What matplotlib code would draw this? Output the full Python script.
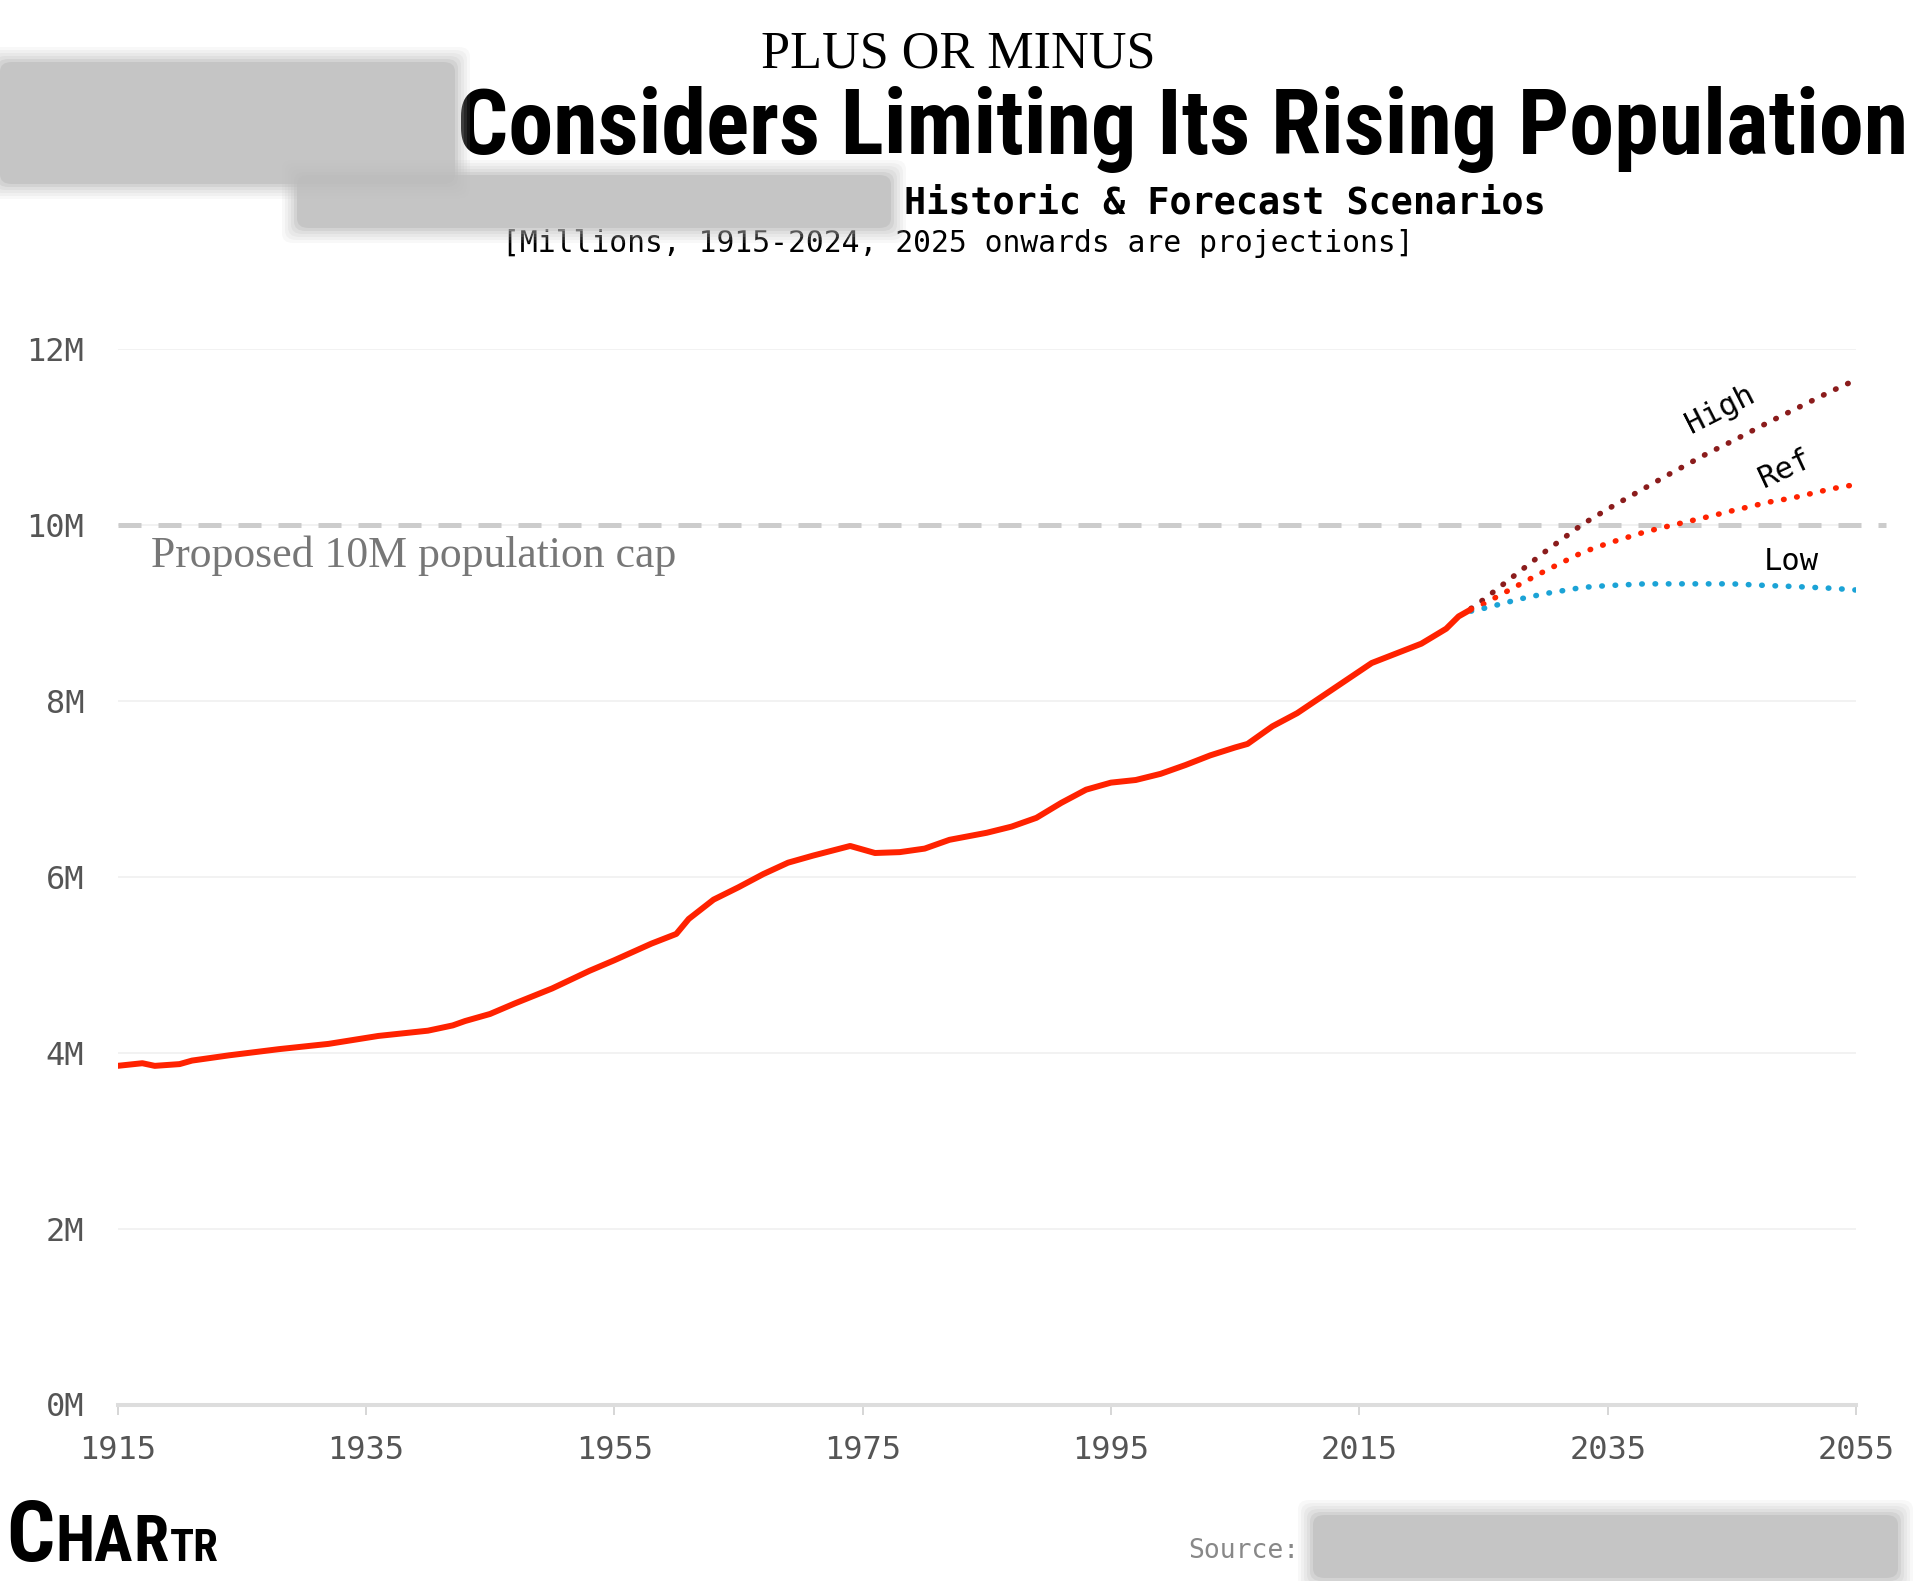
import matplotlib
matplotlib.use("Agg")
import matplotlib.pyplot as plt
from matplotlib import font_manager
from matplotlib.font_manager import FontProperties
from matplotlib.patches import FancyBboxPatch

# historic population, millions
hist_years = [1915, 1917, 1918, 1920, 1921, 1924, 1928, 1932, 1936, 1940,
              1942, 1943, 1945, 1947, 1950, 1953, 1955, 1958, 1960, 1961,
              1963, 1965, 1967, 1969, 1971, 1974, 1976, 1978, 1980, 1982,
              1985, 1987, 1989, 1991, 1993, 1995, 1997, 1999, 2001, 2003,
              2005, 2006, 2008, 2010, 2012, 2014, 2016, 2018, 2020, 2022,
              2023, 2024]
hist_pop = [3.85, 3.88, 3.85, 3.87, 3.91, 3.97, 4.04, 4.10, 4.19, 4.25,
            4.31, 4.36, 4.44, 4.56, 4.73, 4.93, 5.05, 5.24, 5.35, 5.52,
            5.74, 5.88, 6.03, 6.16, 6.24, 6.35, 6.27, 6.28, 6.32, 6.42,
            6.50, 6.57, 6.67, 6.84, 6.99, 7.07, 7.10, 7.17, 7.27, 7.38,
            7.47, 7.51, 7.71, 7.86, 8.05, 8.24, 8.43, 8.54, 8.65, 8.82,
            8.96, 9.04]

# forecast scenarios
fc_years = [2024, 2025, 2028, 2030, 2033, 2035, 2038, 2040, 2043, 2045, 2048, 2050, 2053, 2055]
fc_high = [9.05, 9.15, 9.48, 9.70, 10.01, 10.18, 10.42, 10.58, 10.81, 10.95, 11.17, 11.31, 11.52, 11.65]
fc_ref = [9.04, 9.10, 9.33, 9.48, 9.69, 9.79, 9.92, 9.99, 10.09, 10.16, 10.26, 10.31, 10.41, 10.46]
fc_low = [9.02, 9.05, 9.16, 9.22, 9.29, 9.31, 9.33, 9.33, 9.33, 9.33, 9.31, 9.30, 9.28, 9.26]

y_ticks = [0, 2, 4, 6, 8, 10, 12]
y_labels = ["0M", "2M", "4M", "6M", "8M", "10M", "12M"]
x_ticks = [1915, 1935, 1955, 1975, 1995, 2015, 2035, 2055]
cap = 10

RED = "#ff2200"
DARKRED = "#8b1c1c"
BLUE = "#1ba3d6"

mono = "DejaVu Sans Mono"
serif = "Liberation Serif"


def pick_condensed_bold():
    # look for a narrow / condensed bold face, fall back to plain bold sans
    best = None
    for f in font_manager.fontManager.ttflist:
        name = (f.name + " " + f.fname).lower()
        narrowish = ("condensed" in name or "narrow" in name
                     or f.stretch in ("condensed", "semi-condensed", "extra-condensed", 625, 750))
        boldish = (isinstance(f.weight, int) and f.weight >= 600) or str(f.weight) in ("bold", "heavy", "black")
        if narrowish and boldish and "oblique" not in name and "italic" not in name:
            rank = 0 if "roboto" in name else 1 if "narrow" in name else 2
            if best is None or rank < best[0]:
                best = (rank, f.fname)
    if best:
        return FontProperties(fname=best[1])
    return FontProperties(family="DejaVu Sans", weight="bold")


heavy = pick_condensed_bold()

W, H = 1920, 1581
fig = plt.figure(figsize=(W / 100, H / 100), dpi=100)
renderer = fig.canvas.get_renderer()


def fx(x):
    return x / W


def fy(y):
    return 1 - y / H


def blur_box(x0, y0, x1, y1):
    # soft grey box, a few stacked layers for a blurry edge
    for i, a in enumerate([0.10, 0.12, 0.15, 0.2, 0.35, 0.6]):
        g = (5 - i) * 3
        fig.patches.append(FancyBboxPatch(
            (fx(x0 - g), fy(y1 + g)), fx(x1 - x0 + 2 * g), (y1 - y0 + 2 * g) / H,
            boxstyle="round,pad=0,rounding_size=0.006", transform=fig.transFigure,
            facecolor="#bdbdbd", edgecolor="none", alpha=a, zorder=5))


def fit_text(t, width_px):
    # shrink/grow a text so its width matches the reference
    w = t.get_window_extent(renderer).width
    t.set_fontsize(t.get_fontsize() * width_px / w)


ax = fig.add_axes([fx(117.5), fy(1404.5), fx(1856) - fx(117.5), (1404.5 - 349) / H])

ax.plot(hist_years, hist_pop, color=RED, lw=4.3, solid_capstyle="round", zorder=4)
ax.plot(fc_years, fc_high, color=DARKRED, lw=4, linestyle=(0, (0.1, 2.3)),
        dash_capstyle="round", zorder=3)
ax.plot(fc_years, fc_ref, color=RED, lw=4, linestyle=(0, (0.1, 2.3)),
        dash_capstyle="round", zorder=3)
ax.plot(fc_years, fc_low, color=BLUE, lw=4, linestyle=(0, (0.1, 2.3)),
        dash_capstyle="round", zorder=3)

ax.plot([1915, 2057.4], [cap, cap], color="#cccccc", lw=3.6, dashes=(4.6, 3.4),
        clip_on=False, zorder=2)
ax.text(1917.7, 9.52, "Proposed 10M population cap", family=serif, fontsize=31.5,
        color="#777777", va="baseline", ha="left")

ax.text(2044.1, 11.31, "High", family=mono, fontsize=22, rotation=27,
        ha="center", va="center", rotation_mode="anchor")
ax.text(2049.3, 10.64, "Ref", family=mono, fontsize=22, rotation=25,
        ha="center", va="center", rotation_mode="anchor")
ax.text(2049.8, 9.58, "Low", family=mono, fontsize=22, ha="center", va="center")

ax.set_xlim(1915, 2055)
ax.set_ylim(0, 12)
ax.set_yticks(y_ticks)
ax.set_yticklabels(y_labels)
ax.set_xticks(x_ticks)
ax.grid(axis="y", color="#f2f2f2", lw=1.4)
ax.set_axisbelow(True)
for s in ["top", "right", "left"]:
    ax.spines[s].set_visible(False)
ax.spines["bottom"].set_color("#dddddd")
ax.spines["bottom"].set_linewidth(2.9)
ax.tick_params(axis="y", length=0, pad=24, labelsize=23, labelcolor="#555555")
ax.tick_params(axis="x", length=7, width=1.2, color="#d0d0d0", pad=15,
               labelsize=23, labelcolor="#555555")
for lab in ax.get_xticklabels() + ax.get_yticklabels():
    lab.set_family(mono)

# titles
fig.text(fx(958), fy(68), "PLUS OR MINUS", family=serif, fontsize=37.5,
         ha="center", va="baseline")
title = fig.text(fx(1908), fy(154), "Considers Limiting Its Rising Population",
                 fontproperties=heavy, fontsize=60, ha="right", va="baseline")
fit_text(title, 1453)
blur_box(0, 62, 455, 184)
fig.text(fx(904), fy(213), "Historic & Forecast Scenarios", family=mono,
         fontweight="bold", fontsize=26.5, ha="left", va="baseline")
blur_box(297, 175, 891, 228)
fig.text(fx(958), fy(252), "[Millions, 1915-2024, 2025 onwards are projections]",
         family=mono, fontsize=21.3, ha="center", va="baseline")

# footer logo, pieces laid out one after another
x = 6
for part, size in [("C", 61), ("HA", 46), ("R", 46), ("TR", 32)]:
    t = fig.text(fx(x), fy(1561), part, fontproperties=heavy, fontsize=size,
                 ha="left", va="baseline")
    x += t.get_window_extent(renderer).width + 1
fig.text(fx(1188), fy(1558), "Source:", family=mono, fontsize=19, color="#888888",
         ha="left", va="baseline")
blur_box(1313, 1515, 1898, 1578)

fig.savefig("out.png", dpi=100, facecolor="white")
